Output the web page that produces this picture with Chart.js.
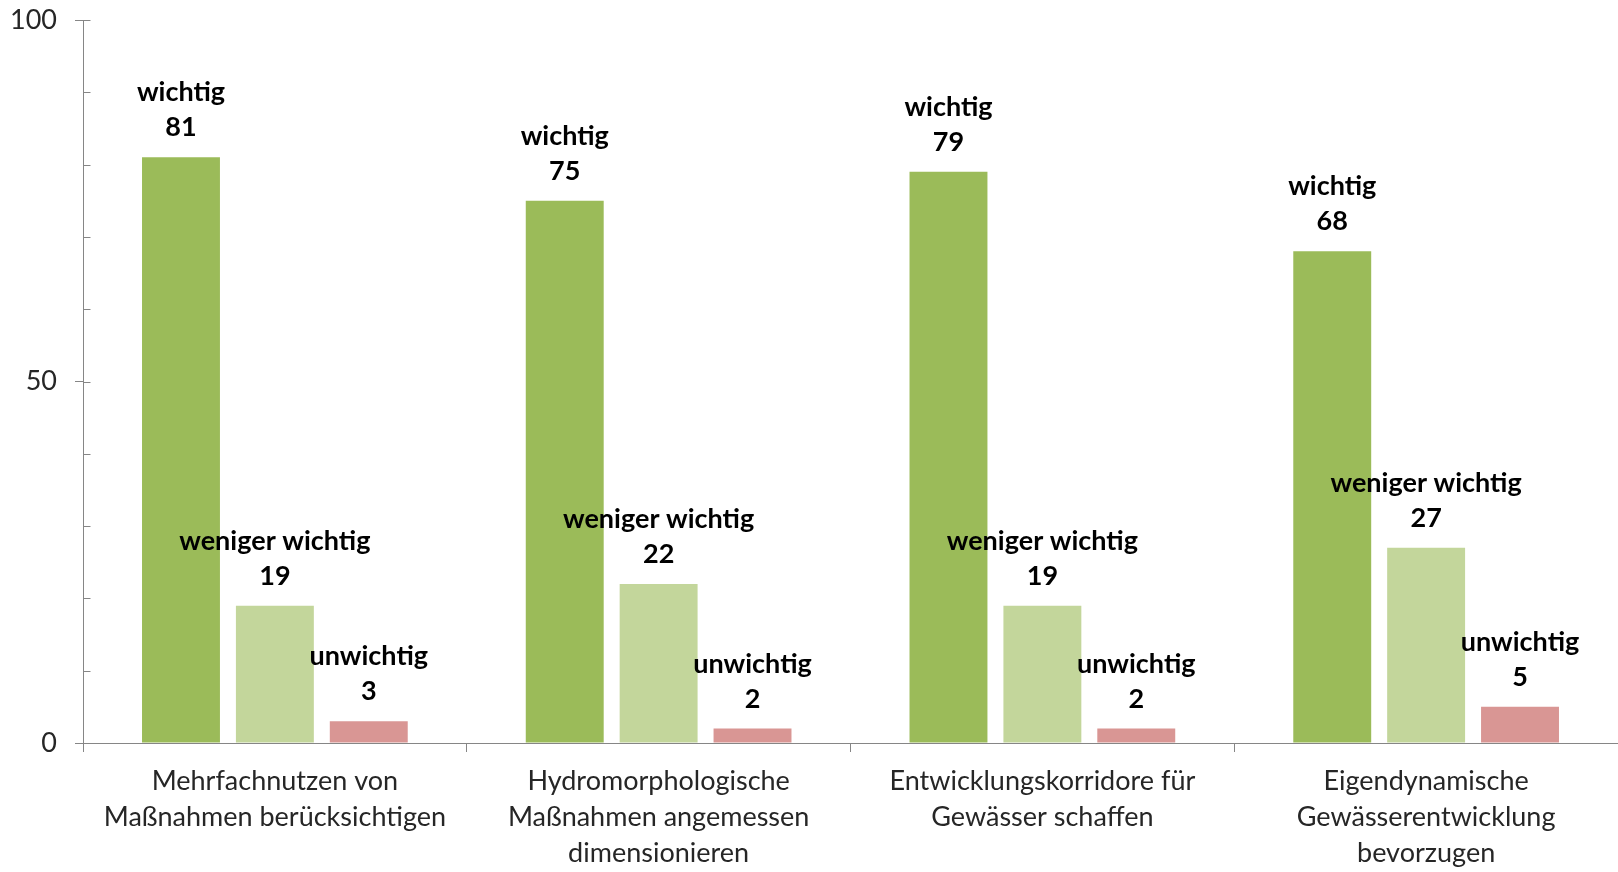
<!DOCTYPE html>
<html>
<head>
<meta charset="utf-8">
<script src="https://cdn.jsdelivr.net/npm/chart.js@4/dist/chart.umd.min.js"></script>
<style>
html,body{margin:0;padding:0;background:#fff;}
#wrap{width:1618px;height:872px;position:relative;}
</style>
</head>
<body>
<div id="wrap"><canvas id="c"></canvas></div>
<script>
const categories = [
  ["Mehrfachnutzen von", "Maßnahmen berücksichtigen"],
  ["Hydromorphologische", "Maßnahmen angemessen", "dimensionieren"],
  ["Entwicklungskorridore für", "Gewässer schaffen"],
  ["Eigendynamische", "Gewässerentwicklung", "bevorzugen"]
];
const seriesNames = ["wichtig", "weniger wichtig", "unwichtig"];
const wichtig = [81, 75, 79, 68];
const wenigerWichtig = [19, 22, 19, 27];
const unwichtig = [3, 2, 2, 5];
const yLabeled = [0, 50, 100];

const FONT = "Lato, 'Open Sans', sans-serif";
const AXIS = "#868686";

const labelPlugin = {
  id: 'barLabels',
  afterDatasetsDraw(chart) {
    const ctx = chart.ctx;
    ctx.save();
    ctx.font = "bold 27px " + FONT;
    ctx.fillStyle = "#000";
    ctx.textAlign = "center";
    ctx.textBaseline = "alphabetic";
    chart.data.datasets.forEach((ds, di) => {
      const meta = chart.getDatasetMeta(di);
      meta.data.forEach((bar, i) => {
        const v = ds.data[i];
        ctx.fillText(String(v), bar.x, bar.y - 21);
        ctx.fillText(ds.label, bar.x, bar.y - 56);
      });
    });
    ctx.restore();
  }
};

const innerTicks = {
  id: 'innerTicks',
  afterDraw(chart) {
    const y = chart.scales.y;
    const ctx = chart.ctx;
    ctx.save();
    ctx.strokeStyle = AXIS;
    ctx.lineWidth = 1;
    const x0 = Math.round(y.right) + 0.5;
    y.ticks.forEach(t => {
      const py = Math.round(y.getPixelForValue(t.value)) + 0.5;
      ctx.beginPath();
      ctx.moveTo(x0, py);
      ctx.lineTo(x0 + 7, py);
      ctx.stroke();
    });
    ctx.restore();
  }
};

new Chart(document.getElementById('c'), {
  type: 'bar',
  data: {
    labels: categories,
    datasets: [
      { label: seriesNames[0], data: wichtig, backgroundColor: "#9BBB59" },
      { label: seriesNames[1], data: wenigerWichtig, backgroundColor: "#C3D69B" },
      { label: seriesNames[2], data: unwichtig, backgroundColor: "#D99694" }
    ]
  },
  options: {
    responsive: true,
    maintainAspectRatio: false,
    animation: false,
    layout: { padding: { top: 20, right: 0, left: 0, bottom: 0 } },
    categoryPercentage: 0.734,
    barPercentage: 0.83,
    plugins: { legend: { display: false }, tooltip: { enabled: false } },
    scales: {
      x: {
        grid: { offset: true, drawOnChartArea: false, drawTicks: true, tickLength: 9, color: AXIS },
        border: { color: AXIS, width: 1 },
        ticks: { font: { family: FONT, size: 27, lineHeight: '36px' }, color: "#262626", padding: 11, maxRotation: 0, autoSkip: false },
        afterFit(scale) { scale.height = 129; scale.paddingLeft = 0; scale.paddingRight = 0; }
      },
      y: {
        min: 0, max: 100,
        grid: {
          drawOnChartArea: false, drawTicks: true, tickLength: 8,
          tickColor: ctx => (yLabeled.includes(ctx.tick.value) ? AXIS : 'rgba(0,0,0,0)')
        },
        border: { color: AXIS, width: 1 },
        ticks: {
          stepSize: 10,
          font: { family: FONT, size: 27 },
          color: "#262626",
          padding: 18,
          callback: v => (yLabeled.includes(v) ? String(v) : '')
        },
        afterFit(scale) { scale.width = 83; scale.paddingTop = 0; scale.paddingBottom = 0; }
      }
    }
  },
  plugins: [labelPlugin, innerTicks]
});
</script>
</body>
</html>
